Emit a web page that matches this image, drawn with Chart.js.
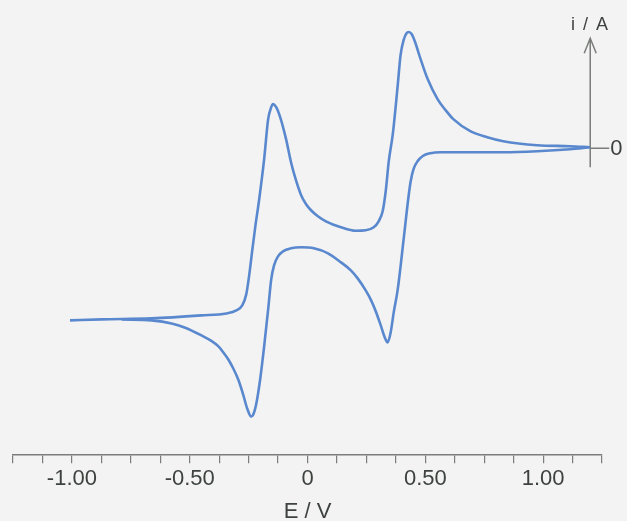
<!DOCTYPE html>
<html>
<head>
<meta charset="utf-8">
<script src="https://cdn.jsdelivr.net/npm/chart.js@4/dist/chart.umd.min.js"></script>
<style>
  html, body { margin: 0; padding: 0; background: #f2f3f2; }
  #wrap { width: 627px; height: 521px; position: relative; }
</style>
</head>
<body>
<div id="wrap"><canvas id="c" width="627" height="521"></canvas></div>
<script>
// Potential (V) and current (arbitrary units)
const forwardE = [-1.008,-0.873,-0.662,-0.450,-0.345,-0.302,-0.277,-0.260,-0.247,-0.235,-0.222,-0.205,-0.184,-0.167,-0.154,-0.146,-0.133,-0.116,-0.091,-0.070,-0.049,-0.027,-0.006,0.015,0.044,0.078,0.142,0.205,0.247,0.281,0.302,0.319,0.332,0.345,0.362,0.383,0.395,0.408,0.421,0.429,0.442,0.455,0.480,0.510,0.552,0.586,0.619,0.691,0.763,0.831,0.975,1.114,1.199];
const forwardI = [-1.72,-1.71,-1.70,-1.67,-1.65,-1.62,-1.57,-1.46,-1.26,-1.03,-0.79,-0.51,-0.11,0.29,0.41,0.44,0.41,0.31,0.09,-0.14,-0.32,-0.47,-0.56,-0.62,-0.68,-0.73,-0.79,-0.825,-0.82,-0.79,-0.73,-0.63,-0.43,-0.13,0.14,0.63,0.93,1.08,1.15,1.16,1.14,1.07,0.89,0.69,0.49,0.38,0.29,0.17,0.11,0.07,0.03,0.02,0.01];
const reverseE = [1.199,1.114,0.975,0.831,0.691,0.564,0.522,0.488,0.467,0.450,0.438,0.429,0.408,0.383,0.366,0.353,0.340,0.328,0.311,0.290,0.268,0.247,0.213,0.184,0.142,0.087,0.027,-0.027,-0.070,-0.104,-0.125,-0.142,-0.154,-0.167,-0.184,-0.201,-0.218,-0.230,-0.239,-0.256,-0.273,-0.294,-0.315,-0.336,-0.357,-0.378,-0.408,-0.450,-0.522,-0.577,-0.662,-0.789];
const reverseI = [0.01,-0.01,-0.03,-0.04,-0.04,-0.04,-0.05,-0.08,-0.13,-0.21,-0.33,-0.48,-0.91,-1.41,-1.64,-1.84,-1.94,-1.89,-1.77,-1.63,-1.51,-1.42,-1.30,-1.22,-1.14,-1.05,-1.00,-0.99,-1.00,-1.03,-1.08,-1.17,-1.31,-1.61,-1.98,-2.31,-2.56,-2.66,-2.68,-2.60,-2.46,-2.31,-2.20,-2.11,-2.04,-1.98,-1.925,-1.87,-1.79,-1.75,-1.72,-1.71];
const xLabelValues = [-1.0, -0.5, 0, 0.5, 1.0];
const xTitle = 'E / V';
const yTitle = 'i / A';
const yZeroLabel = '0';
const switchE = 1.2;

const toPts = (E, I) => E.map((e, k) => ({ x: e, y: I[k] }));

const AXIS = '#7b7d7b';
const TXT = '#3e423f';
const FONT = "'Liberation Sans', Arial, sans-serif";

const bgPlugin = {
  id: 'bg',
  beforeDraw(chart) {
    const ctx = chart.ctx;
    ctx.save();
    ctx.fillStyle = '#f2f3f2';
    ctx.fillRect(0, 0, chart.width, chart.height);
    ctx.restore();
  }
};

const yAxisPlugin = {
  id: 'yAxisArrow',
  beforeDatasetsDraw(chart) {
    const ctx = chart.ctx;
    const xs = chart.scales.x, ys = chart.scales.y;
    const px = xs.getPixelForValue(switchE);
    const y0 = ys.getPixelForValue(0);
    const top = y0 - 110;
    const bottom = y0 + 19;
    ctx.save();
    ctx.strokeStyle = AXIS;
    ctx.lineWidth = 1.5;
    ctx.beginPath();
    ctx.moveTo(px, bottom);
    ctx.lineTo(px, top);
    ctx.moveTo(px - 6, top + 15);
    ctx.lineTo(px, top);
    ctx.lineTo(px + 6, top + 15);
    ctx.moveTo(px, y0);
    ctx.lineTo(px + 19, y0);
    ctx.stroke();
    ctx.fillStyle = TXT;
    ctx.font = '22px ' + FONT;
    ctx.textAlign = 'left';
    ctx.textBaseline = 'middle';
    ctx.fillText(yZeroLabel, px + 20, y0 + 1);
    ctx.font = '18px ' + FONT;
    ctx.textAlign = 'center';
    try { ctx.letterSpacing = '1.5px'; } catch (e) {}
    ctx.fillText(yTitle, px, top - 13);
    ctx.restore();
  }
};

new Chart(document.getElementById('c'), {
  type: 'scatter',
  data: {
    datasets: [
      { label: 'forward', data: toPts(forwardE, forwardI) },
      { label: 'reverse', data: toPts(reverseE, reverseI) }
    ]
  },
  options: {
    responsive: false,
    animation: false,
    devicePixelRatio: 1,
    layout: { padding: { left: 13, right: 25, top: 10, bottom: 0 } },
    elements: {
      point: { radius: 0 },
      line: { borderColor: '#5a88cf', borderWidth: 2.6, cubicInterpolationMode: 'monotone', fill: false }
    },
    datasets: { scatter: { showLine: true, borderColor: '#5a88cf', clip: false } },
    plugins: { legend: { display: false }, tooltip: { enabled: false } },
    scales: {
      x: {
        type: 'linear', min: -1.25, max: 1.25,
        grid: { drawOnChartArea: false, drawTicks: true, tickLength: 8, color: AXIS, lineWidth: 1.2 },
        border: { display: true, color: AXIS, width: 1.5 },
        ticks: {
          stepSize: 0.125, autoSkip: false, maxRotation: 0, padding: 3,
          color: TXT, font: { family: FONT, size: 22 },
          callback: (v) => {
            const hit = xLabelValues.find(t => Math.abs(t - v) < 1e-6);
            if (hit === undefined) return '';
            return hit === 0 ? '0' : hit.toFixed(2);
          }
        },
        title: { display: true, text: xTitle, color: TXT, font: { family: FONT, size: 22 }, padding: { top: 3, bottom: -4 } }
      },
      y: {
        type: 'linear', min: -3.066, max: 1.38, display: false
      }
    }
  },
  plugins: [bgPlugin, yAxisPlugin]
});
</script>
</body>
</html>
